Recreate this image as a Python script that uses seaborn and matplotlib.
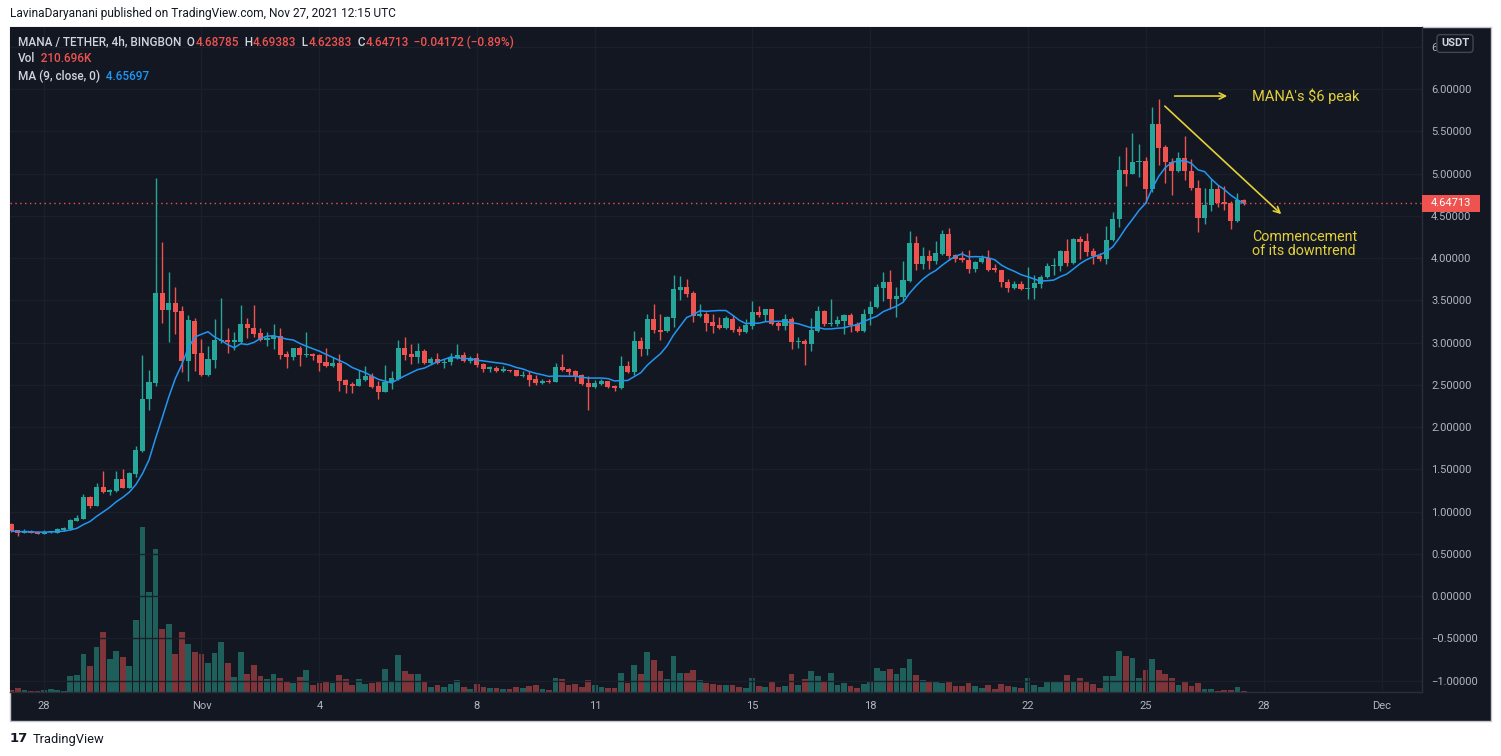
import datetime as dt
import numpy as np
import pandas as pd
import matplotlib
matplotlib.use("Agg")
import matplotlib.pyplot as plt
import matplotlib.transforms as mtransforms
from matplotlib.patches import Rectangle
import seaborn as sns

# ---------------- data (4h candles, MANA/USDT) ----------------
START = "2021-10-27 04:00"

opens = [0.85, 0.78, 0.749, 0.773, 0.761, 0.738, 0.755, 0.749, 0.78, 0.789,
         0.891, 0.915, 1.172, 1.069, 1.29, 1.231, 1.243, 1.385, 1.282, 1.448,
         1.716, 2.331, 2.525, 3.586, 3.389, 3.467, 3.373, 2.785, 3.254, 2.876,
         2.619, 2.797, 3.02, 3.03, 3.01, 3.01, 3.219, 3.175, 3.109, 3.03,
         3.045, 3.077, 2.86, 2.828, 2.935, 2.85, 2.87, 2.852, 2.77, 2.722,
         2.761, 2.556, 2.51, 2.49, 2.556, 2.604, 2.485, 2.414, 2.53, 2.568,
         2.935, 2.86, 2.828, 2.90, 2.76, 2.81, 2.76, 2.77, 2.82, 2.85,
         2.78, 2.82, 2.74, 2.69, 2.70, 2.66, 2.67, 2.67, 2.60, 2.62,
         2.57, 2.52, 2.54, 2.535, 2.71, 2.69, 2.663, 2.61, 2.521, 2.47,
         2.51, 2.54, 2.49, 2.46, 2.72, 2.651, 3.018, 2.923, 3.278, 3.15,
         3.136, 3.29, 3.62, 3.657, 3.586, 3.314, 3.337, 3.243, 3.207, 3.172,
         3.278, 3.16, 3.124, 3.195, 3.361, 3.325, 3.396, 3.23, 3.195, 3.278,
         3.006, 3.018, 2.982, 3.14, 3.373, 3.219, 3.22, 3.26, 3.325, 3.219,
         3.136, 3.337, 3.42, 3.645, 3.716, 3.515, 3.54, 3.728, 4.178, 3.929,
         4.024, 3.965, 4.047, 4.284, 4.03, 4.0, 3.98, 3.87, 3.95, 4.0,
         3.876, 3.853, 3.72, 3.651, 3.692, 3.63, 3.64, 3.69, 3.77, 3.90,
         3.91, 4.082, 3.94, 4.224, 4.2, 4.08, 4.02, 3.99, 4.21, 4.462,
         5.039, 5.0, 5.136, 5.15, 4.819, 5.585, 5.31, 5.14, 5.035, 5.181,
         5.035, 4.83, 4.476, 4.627, 4.82, 4.66, 4.65, 4.434, 4.68785]

highs = [0.86, 0.78, 0.797, 0.785, 0.765, 0.785, 0.775, 0.80, 0.82, 0.91,
         0.962, 1.207, 1.18, 1.337, 1.479, 1.27, 1.479, 1.503, 1.468, 1.775,
         2.852, 2.675, 4.947, 4.189, 3.834, 3.657, 3.432, 3.325, 3.29, 3.041,
         2.959, 3.278, 3.527, 3.17, 3.13, 3.444, 3.29, 3.444, 3.172, 3.13,
         3.219, 3.172, 2.90, 2.935, 2.96, 3.124, 2.88, 2.86, 2.935, 2.83,
         2.864, 2.57, 2.53, 2.675, 2.722, 2.64, 2.54, 2.734, 2.66, 3.03,
         3.065, 2.98, 3.0, 2.92, 2.83, 2.88, 2.80, 2.88, 2.98, 2.885,
         2.84, 2.88, 2.76, 2.72, 2.72, 2.72, 2.68, 2.68, 2.66, 2.66,
         2.61, 2.57, 2.57, 2.76, 2.864, 2.70, 2.67, 2.63, 2.60, 2.556,
         2.57, 2.545, 2.50, 2.84, 2.78, 3.136, 3.065, 3.337, 3.456, 3.337,
         3.31, 3.799, 3.79, 3.752, 3.61, 3.456, 3.36, 3.337, 3.302, 3.314,
         3.325, 3.20, 3.278, 3.491, 3.43, 3.40, 3.40, 3.254, 3.337, 3.30,
         3.06, 3.04, 3.29, 3.43, 3.385, 3.515, 3.314, 3.337, 3.349, 3.243,
         3.396, 3.491, 3.69, 3.834, 3.858, 3.657, 3.964, 4.32, 4.26, 4.13,
         4.10, 4.20, 4.33, 4.355, 4.05, 4.08, 4.10, 3.97, 4.04, 4.10,
         3.93, 3.86, 3.75, 3.73, 3.73, 3.894, 3.80, 3.80, 3.94, 4.0,
         4.10, 4.224, 4.24, 4.26, 4.297, 4.12, 4.06, 4.38, 4.544, 5.209,
         5.315, 5.479, 5.35, 5.19, 5.786, 5.887, 5.34, 5.18, 5.25, 5.443,
         5.17, 4.92, 4.83, 4.93, 4.87, 4.85, 4.67, 4.769, 4.69383]

lows = [0.76, 0.714, 0.745, 0.745, 0.732, 0.735, 0.75, 0.745, 0.775, 0.785,
        0.885, 0.91, 1.045, 1.06, 1.225, 1.20, 1.235, 1.275, 1.275, 1.41,
        1.70, 2.201, 2.485, 3.235, 3.010, 3.104, 2.655, 2.548, 2.667, 2.60,
        2.607, 2.702, 3.0, 2.88, 2.91, 3.0, 3.05, 3.07, 3.02, 2.962,
        2.919, 2.809, 2.702, 2.79, 2.72, 2.83, 2.79, 2.667, 2.71, 2.71,
        2.426, 2.402, 2.402, 2.48, 2.55, 2.461, 2.331, 2.41, 2.45, 2.56,
        2.79, 2.75, 2.76, 2.75, 2.75, 2.75, 2.70, 2.73, 2.81, 2.77,
        2.76, 2.71, 2.65, 2.65, 2.65, 2.65, 2.65, 2.60, 2.59, 2.49,
        2.50, 2.51, 2.52, 2.53, 2.66, 2.61, 2.544, 2.50, 2.201, 2.46,
        2.50, 2.46, 2.43, 2.455, 2.64, 2.61, 2.84, 2.85, 3.112, 3.03,
        3.12, 3.183, 3.50, 3.54, 3.243, 3.30, 3.136, 3.11, 3.16, 3.16,
        3.13, 3.09, 3.11, 3.16, 3.30, 3.254, 3.21, 3.15, 3.15, 2.923,
        2.94, 2.734, 2.90, 3.13, 3.195, 3.195, 3.195, 3.10, 3.124, 3.13,
        3.13, 3.21, 3.41, 3.49, 3.396, 3.302, 3.49, 3.72, 3.858, 3.87,
        3.87, 3.93, 4.03, 3.98, 3.95, 3.95, 3.82, 3.83, 3.94, 3.85,
        3.84, 3.656, 3.596, 3.63, 3.62, 3.518, 3.518, 3.65, 3.76, 3.80,
        3.85, 3.90, 3.93, 3.99, 4.02, 3.93, 3.96, 3.93, 4.20, 4.37,
        4.847, 4.99, 4.96, 4.65, 4.78, 5.099, 4.893, 4.751, 5.02, 4.92,
        4.80, 4.306, 4.40, 4.56, 4.60, 4.57, 4.343, 4.43, 4.62383]

closes = [0.77, 0.749, 0.773, 0.749, 0.738, 0.761, 0.765, 0.793, 0.81, 0.899,
          0.923, 1.172, 1.069, 1.29, 1.231, 1.255, 1.385, 1.282, 1.456, 1.728,
          2.331, 2.533, 3.586, 3.389, 3.467, 3.365, 2.785, 3.266, 2.868, 2.619,
          2.805, 3.030, 3.03, 3.01, 3.03, 3.219, 3.17, 3.10, 3.030, 3.057,
          3.077, 2.852, 2.83, 2.935, 2.852, 2.87, 2.84, 2.761, 2.722, 2.761,
          2.544, 2.497, 2.49, 2.568, 2.604, 2.473, 2.414, 2.533, 2.58, 2.935,
          2.852, 2.83, 2.90, 2.76, 2.81, 2.76, 2.77, 2.83, 2.85, 2.781,
          2.82, 2.734, 2.686, 2.71, 2.663, 2.69, 2.66, 2.604, 2.62, 2.556,
          2.521, 2.54, 2.535, 2.71, 2.675, 2.651, 2.604, 2.509, 2.473, 2.52,
          2.54, 2.473, 2.46, 2.722, 2.651, 3.018, 2.923, 3.278, 3.148, 3.13,
          3.302, 3.633, 3.657, 3.574, 3.314, 3.337, 3.231, 3.195, 3.172, 3.29,
          3.148, 3.124, 3.207, 3.361, 3.325, 3.396, 3.219, 3.195, 3.278, 3.006,
          3.018, 2.982, 3.148, 3.373, 3.219, 3.23, 3.266, 3.325, 3.207, 3.136,
          3.337, 3.42, 3.657, 3.716, 3.515, 3.55, 3.74, 4.178, 3.929, 4.024,
          3.965, 4.06, 4.284, 4.024, 3.99, 3.98, 3.87, 3.953, 4.0, 3.858,
          3.853, 3.72, 3.651, 3.692, 3.63, 3.65, 3.71, 3.775, 3.903, 3.92,
          4.082, 3.94, 4.224, 4.19, 4.073, 4.02, 3.99, 4.21, 4.462, 5.039,
          5.0, 5.136, 5.15, 4.819, 5.585, 5.301, 5.131, 5.035, 5.181, 5.035,
          4.83, 4.476, 4.627, 4.82, 4.65, 4.64, 4.434, 4.68885, 4.64713]

volumes_k = [400, 800, 400, 200, 200, 400, 600, 400, 200, 3200,
             3400, 7600, 5200, 9000, 12000, 6600, 8200, 7000, 5200, 14400,
             33000, 20000, 28600, 12600, 13600, 7600, 12000, 9600, 8000, 7600,
             5800, 7800, 10000, 5800, 3000, 8000, 3600, 5400, 3200, 2600,
             3600, 2800, 2000, 1800, 3000, 4400, 1400, 1800, 2200, 1800,
             3400, 2600, 1400, 2600, 1600, 1800, 2000, 4600, 2000, 7400,
             4200, 3600, 3600, 2200, 1000, 1400, 1000, 1600, 2400, 1000,
             600, 1600, 1000, 800, 800, 600, 600, 1000, 800, 1200,
             1400, 600, 400, 2800, 2600, 1400, 1600, 1000, 2400, 1400,
             1000, 800, 800, 3800, 1800, 5400, 3600, 8000, 6400, 4200,
             2600, 7200, 3800, 3800, 4400, 2400, 1800, 1600, 1400, 1400,
             1400, 1000, 800, 2800, 1200, 1000, 2000, 1000, 1200, 3600,
             1400, 2600, 4200, 3200, 2000, 3800, 1400, 1800, 1200, 800,
             1600, 2200, 4800, 4200, 4600, 3600, 4800, 6600, 3400, 2400,
             2200, 2200, 1800, 2000, 1200, 1200, 1800, 1200, 800, 1400,
             600, 1600, 1200, 1000, 800, 2800, 1400, 1000, 2200, 2000,
             2000, 3400, 2200, 2800, 2200, 1600, 800, 3200, 3200, 8200,
             7200, 6800, 2800, 4400, 6600, 4400, 3600, 2800, 1400, 2200,
             1200, 1800, 600, 600, 200, 400, 400, 1000, 210.696]

MA_PERIOD = 9
MA_LAST_LABEL = "4.65697"

tick_dates = ["2021-10-28", "2021-11-01", "2021-11-04", "2021-11-08", "2021-11-11",
              "2021-11-15", "2021-11-18", "2021-11-22", "2021-11-25", "2021-11-28",
              "2021-12-01"]
tick_labels = ["28", "Nov", "4", "8", "11", "15", "18", "22", "25", "28", "Dec"]
price_ticks = [-1.0, -0.5, 0.0, 0.5, 1.0, 1.5, 2.0, 2.5, 3.0, 3.5, 4.0, 4.5,
               5.0, 5.5, 6.0, 6.5]

X_RANGE = ("2021-10-27 03:12", "2021-12-02 00:38")
PRICE_RANGE = (-1.136, 6.734)
VOL_TOP = 133000

# annotations
PEAK_ARROW = (("2021-11-25 16:00", 5.917), ("2021-11-27 03:30", 5.917))
PEAK_TEXT = ("2021-11-27 17:00", 5.917, "MANA's $6 peak")
TREND_ARROW = (("2021-11-25 10:30", 5.82), ("2021-11-28 12:00", 4.497))
TREND_TEXT = ("2021-11-27 17:00", 4.17, "Commencement\nof its downtrend")

HEADER = "LavinaDaryanani published on TradingView.com, Nov 27, 2021 12:15 UTC"
SYMBOL = "MANA / TETHER, 4h, BINGBON"

# ---------------- styling ----------------
sns.set_style("dark")
plt.rcParams["font.family"] = ["Roboto", "DejaVu Sans"]

BG = "#131722"
UP = "#26a69a"
DOWN = "#ef5350"
VUP = "#1f5f5b"
VDOWN = "#7e3539"
MA_C = "#2196f3"
TXT = "#b2b5be"
LEG = "#d1d4dc"
YEL = "#e3d138"
GRID = "#1b1f2b"
SEP = "#2a2e39"

W, H = 1501, 756
fig = plt.figure(figsize=(W / 100, H / 100), dpi=100, facecolor="white")
frame = Rectangle((10 / W, 1 - 721 / H), 1481 / W, 694 / H,
                  transform=fig.transFigure, facecolor=BG,
                  edgecolor="#c3c6ce", lw=1, zorder=-10)
fig.patches.append(frame)
rect = [10 / W, 1 - 692 / H, 1412 / W, 665 / H]
ax_v = fig.add_axes(rect, zorder=1)
ax = fig.add_axes(rect, sharex=ax_v, zorder=2)
ax_v.set_facecolor(BG)
ax.set_facecolor("none")

df = pd.DataFrame({"time": pd.date_range(START, periods=len(closes), freq="4h"),
                   "open": opens, "high": highs, "low": lows, "close": closes,
                   "volume": volumes_k})
df["up"] = df["close"] >= df["open"]
df["ma"] = df["close"].rolling(MA_PERIOD, min_periods=1).mean()
times = df["time"].dt.to_pydatetime()

# volume
ax_v.bar(times, df["volume"], width=dt.timedelta(hours=3.5),
         color=np.where(df["up"], VUP, VDOWN), linewidth=0)
ax_v.set_ylim(0, VOL_TOP)
ax_v.set_yticks([])
ax_v.tick_params(axis="x", labelbottom=False, length=0)
for s in ax_v.spines.values():
    s.set_visible(False)
ax_v.grid(False)

# candles
cols = np.where(df["up"], UP, DOWN)
ax.vlines(times, df["low"], df["high"], colors=cols, lw=1.0, zorder=3)
body_lo = np.minimum(df["open"], df["close"])
body_h = np.maximum(np.abs(df["close"] - df["open"]), 0.012)
ax.bar(times, body_h, bottom=body_lo, width=dt.timedelta(hours=3.1),
       color=cols, linewidth=0, zorder=4)

# moving average
sns.lineplot(x=times, y=df["ma"].values, ax=ax, color=MA_C, lw=1.1, zorder=5)

last = closes[-1]
ax.axhline(last, color=DOWN, ls=(0, (1, 2.5)), lw=1, zorder=2)

ax.set_xlim(pd.Timestamp(X_RANGE[0]), pd.Timestamp(X_RANGE[1]))
ax.set_ylim(*PRICE_RANGE)
ax.set_xlabel("")
ax.set_ylabel("")

ax.yaxis.tick_right()
ax.set_yticks(price_ticks)
ax.set_yticklabels([f"{v:.5f}".replace("-", "\u2212") for v in price_ticks])
ax.set_xticks([pd.Timestamp(d) for d in tick_dates])
ax.set_xticklabels(tick_labels)
ax.tick_params(axis="y", length=0, pad=6.5, labelsize=8, colors=TXT)
ax.tick_params(axis="x", length=0, pad=6.5, labelsize=8, colors=TXT)
ax.grid(True, color=GRID, lw=1)
ax.set_axisbelow(True)
for k in ("left", "top"):
    ax.spines[k].set_visible(False)
for k in ("right", "bottom"):
    ax.spines[k].set_color(SEP)
    ax.spines[k].set_linewidth(1)

# last price label on the scale
trans = mtransforms.blended_transform_factory(ax.transAxes, ax.transData)
half = 8.5 / 84.5
ax.add_patch(Rectangle((1.0, last - half), 58 / 1412, 2 * half, transform=trans,
                       facecolor=DOWN, edgecolor="none", clip_on=False, zorder=10))
ax.text(1.0 + 9 / 1412, last, f"{last:.5f}", transform=trans, color="white",
        fontsize=8, va="center", ha="left", zorder=11, clip_on=False)

# currency badge
fig.text(1455 / W, 1 - 43.5 / H, "USDT", ha="center", va="center", fontsize=8,
         color=LEG, fontweight="bold", zorder=20,
         bbox=dict(boxstyle="round,pad=0.35,rounding_size=0.3", fc=BG,
                   ec="#434651", lw=1))

# annotations
(x0, y0), (x1, y1) = PEAK_ARROW
ax.annotate("", xy=(pd.Timestamp(x1), y1), xytext=(pd.Timestamp(x0), y0),
            arrowprops=dict(arrowstyle="->", color=YEL, lw=1.2, mutation_scale=11),
            zorder=8)
ax.text(pd.Timestamp(PEAK_TEXT[0]), PEAK_TEXT[1], PEAK_TEXT[2], color=YEL,
        fontsize=10.5, va="center", ha="left", zorder=8)
(x0, y0), (x1, y1) = TREND_ARROW
ax.annotate("", xy=(pd.Timestamp(x1), y1), xytext=(pd.Timestamp(x0), y0),
            arrowprops=dict(arrowstyle="->", color=YEL, lw=1.2, mutation_scale=11),
            zorder=8)
ax.text(pd.Timestamp(TREND_TEXT[0]), TREND_TEXT[1], TREND_TEXT[2], color=YEL,
        fontsize=10.3, va="center", ha="left", linespacing=1.0, zorder=8)


# legend lines (multi-coloured text)
def chain(x, y, parts, size=8.5):
    prev = None
    for s, c in parts:
        if prev is None:
            prev = ax.annotate(s, xy=(x, H - y), xycoords="figure pixels", color=c,
                               fontsize=size, va="center", ha="left",
                               fontweight="medium", annotation_clip=False)
        else:
            prev = ax.annotate(s, xy=(1, 0.5), xycoords=prev, color=c,
                               fontsize=size, va="center", ha="left",
                               fontweight="medium", annotation_clip=False)


def fmt(v, n=5):
    return f"{v:.{n}f}".replace("-", "\u2212")


chg = closes[-1] - closes[-2]
pct = chg / closes[-2] * 100
chain(18, 42, [(SYMBOL, LEG), ("  O", LEG), (fmt(opens[-1]), DOWN),
               ("  H", LEG), (fmt(highs[-1]), DOWN), ("  L", LEG), (fmt(lows[-1]), DOWN),
               ("  C", LEG), (fmt(closes[-1]), DOWN),
               (f"  {fmt(chg)} ({fmt(pct, 2)}%)", DOWN)])
chain(18, 59, [("Vol", LEG), (f"  {volumes_k[-1]:.3f}K", DOWN)])
chain(18, 76, [("MA (9, close, 0)", LEG), (f"  {MA_LAST_LABEL}", MA_C)])

# header / footer
fig.text(10 / W, 1 - 13 / H, HEADER, color="#131722", fontsize=8.6, va="center", ha="left")
fig.text(10 / W, 1 - 739 / H, "17", color="#131722", fontsize=9.5, va="center",
         ha="left", fontweight="bold", family="DejaVu Sans")
fig.text(33 / W, 1 - 739 / H, "TradingView", color="#131722", fontsize=9.3,
         va="center", ha="left")

fig.savefig("out.png", dpi=100, facecolor="white")
